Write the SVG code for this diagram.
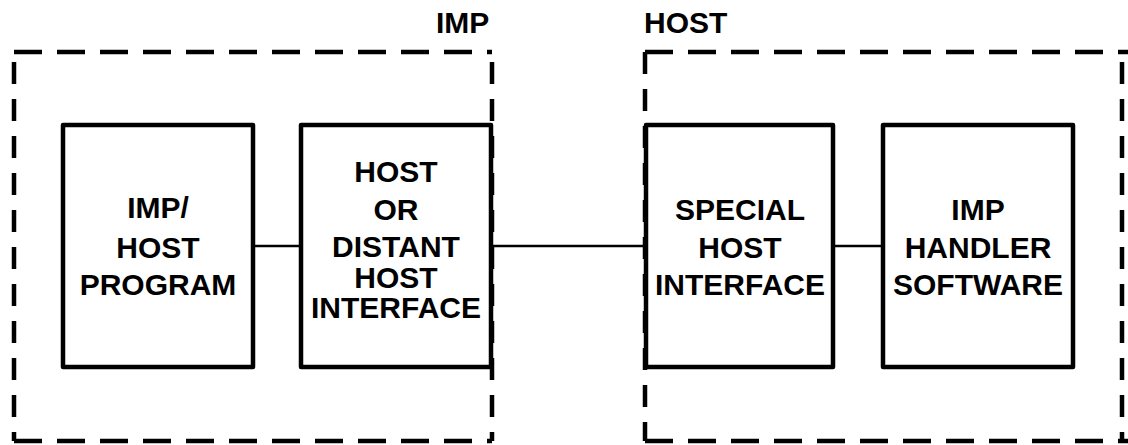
<svg xmlns="http://www.w3.org/2000/svg" width="1128" height="445" viewBox="0 0 1128 445">
<style>
.bg{fill:#fff}
.dh{fill:none;stroke:#000;stroke-width:4.5;stroke-dasharray:28 15;stroke-linecap:butt}
.dv{fill:none;stroke:#000;stroke-width:4.5;stroke-dasharray:22 15;stroke-linecap:butt}
.box{fill:#fff;stroke:#000;stroke-width:4.5;stroke-linejoin:round}
.conn{stroke:#000;stroke-width:2.5;fill:none}
text{font-family:"Liberation Sans",Arial,sans-serif;font-size:30px;font-weight:bold;fill:#000;text-anchor:middle}
.lbl{text-anchor:start}
</style>
<rect class="bg" x="0" y="0" width="1128" height="445"/>
<g id="imp-region">
<path class="dh" d="M14,52 H492"/>
<path class="dh" d="M14,441 H492"/>
<path class="dv" d="M14,62 V441"/>
<path class="dv" d="M492,62 V441"/>
<text class="lbl" x="436" y="33">IMP</text>
</g>
<g id="host-region">
<path class="dh" d="M645,52 H1128"/>
<path class="dh" d="M645,441 H1128"/>
<path class="dv" d="M645,52 V441"/>
<path class="dv" d="M1122,62 V441"/>
<text class="lbl" x="644" y="33">HOST</text>
</g>
<g id="connectors">
<line class="conn" x1="253" y1="246" x2="301" y2="246"/>
<line class="conn" x1="491" y1="246" x2="646" y2="246"/>
<line class="conn" x1="833" y1="246" x2="883" y2="246"/>
</g>
<g id="imp-host-program">
<rect class="box" x="63" y="125" width="190" height="242"/>
<text x="158" y="218">IMP/</text>
<text x="158" y="258">HOST</text>
<text x="158" y="295">PROGRAM</text>
</g>
<g id="host-or-distant-host-interface">
<rect class="box" x="301" y="125" width="190" height="242"/>
<text x="396" y="182">HOST</text>
<text x="396" y="220">OR</text>
<text x="396" y="257">DISTANT</text>
<text x="396" y="288">HOST</text>
<text x="396" y="318">INTERFACE</text>
</g>
<g id="special-host-interface">
<rect class="box" x="646" y="125" width="187" height="242"/>
<text x="740" y="220">SPECIAL</text>
<text x="740" y="258">HOST</text>
<text x="740" y="295">INTERFACE</text>
</g>
<g id="imp-handler-software">
<rect class="box" x="883" y="125" width="190" height="242"/>
<text x="978" y="220">IMP</text>
<text x="978" y="258">HANDLER</text>
<text x="978" y="295">SOFTWARE</text>
</g>
</svg>
